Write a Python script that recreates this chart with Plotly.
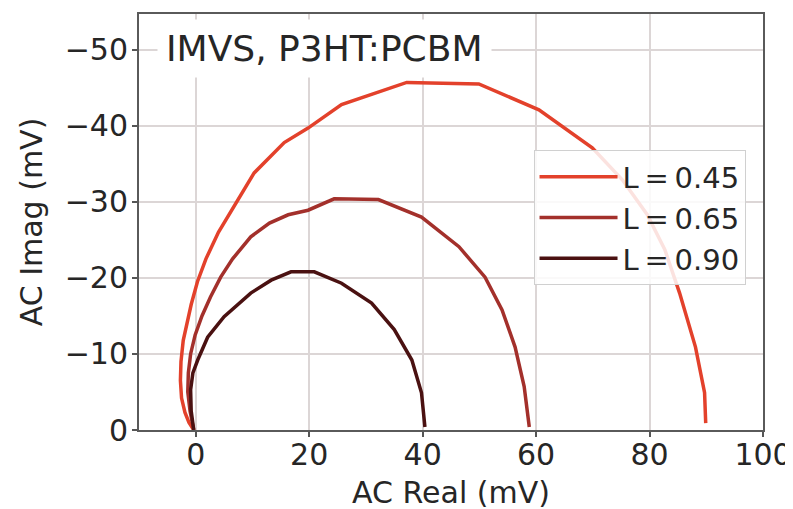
import plotly.graph_objects as go

# Data (AC Real, AC Imag in mV)
real_045 = [-0.35, -1.2, -1.9, -2.5, -2.7, -2.6, -2.2, -1.6, -0.8, 0.3, 1.8, 4.0, 7.4, 10.3, 15.6, 19.8,
            25.7, 34.5, 37.2, 49.9, 60.5, 69.9, 75.2, 79.6, 82.7, 85.3, 88.1, 89.7, 89.9]
imag_045 = [0.0, -1.0, -2.3, -4.2, -6.5, -9.0, -11.8, -14.0, -16.5, -19.5, -22.5, -26.0, -30.3, -33.8, -37.8, -39.7,
            -42.8, -45.1, -45.7, -45.5, -42.1, -37.1, -32.9, -28.3, -23.7, -18.0, -10.9, -4.9, -0.9]

real_065 = [-0.35, -1.0, -1.4, -1.3, -0.9, -0.1, 1.1, 2.6, 4.4, 6.5, 9.7, 13.0, 16.3, 19.8, 24.4, 32.2,
            39.8, 46.4, 51.0, 54.0, 56.3, 57.9, 58.8]
imag_065 = [0.0, -2.5, -5.0, -7.5, -10.0, -12.5, -15.0, -17.5, -20.1, -22.5, -25.4, -27.2, -28.3, -28.9, -30.4, -30.3,
            -28.0, -24.1, -20.1, -15.8, -10.9, -5.7, -0.4]

real_090 = [-0.35, -0.8, -0.9, -0.5, 0.35, 2.1, 5.0, 9.7, 13.3, 16.8, 20.9, 25.7, 31.0, 35.0, 38.1, 39.8, 40.4]
imag_090 = [0.0, -2.5, -5.3, -7.5, -9.2, -12.2, -14.9, -18.0, -19.7, -20.8, -20.8, -19.3, -16.7, -13.2, -9.2, -4.9, -0.4]

series_names = ["L\u2009=\u20090.45", "L\u2009=\u20090.65", "L\u2009=\u20090.90"]
series_colors = ["#e3412b", "#a3302b", "#4a1111"]

x_ticks = [0, 20, 40, 60, 80, 100]
y_ticks = [0, -10, -20, -30, -40, -50]
y_tick_text = ["0", "\u221210", "\u221220", "\u221230", "\u221240", "\u221250"]

FONT = "DejaVu Sans"
INK = "#262626"

fig = go.Figure()
for xs, ys, name, col in zip([real_045, real_065, real_090], [imag_045, imag_065, imag_090],
                             series_names, series_colors):
    fig.add_trace(go.Scatter(x=xs, y=ys, mode="lines", name=name,
                             line=dict(color=col, width=3.5)))

# The page body adds an 8px offset; plot area placed to match the reference
fig.update_layout(
    width=785, height=508,
    margin=dict(l=131, r=30, t=6, b=86),
    paper_bgcolor="white", plot_bgcolor="white",
    font=dict(family=FONT, color=INK, size=28),
    showlegend=True,
    legend=dict(x=0.972, y=0.672, xanchor="right", yanchor="top",
                bgcolor="rgba(255,255,255,0.85)", bordercolor="#d0d0d0", borderwidth=1,
                font=dict(family=FONT, size=29, color=INK),
                tracegroupgap=0, itemwidth=78),
    hovermode=False,
)

fig.update_xaxes(
    range=[-10, 100], tickvals=x_ticks, ticks="outside", ticklen=5, tickwidth=1.5, tickcolor="#555",
    showline=True, linecolor="#5a5a5a", linewidth=2, mirror=True,
    showgrid=True, gridcolor="#dcd6d6", gridwidth=1.5, zeroline=False, automargin=False,
    tickfont=dict(family=FONT, size=30, color=INK), ticklabelstandoff=-8,
    title=dict(text="AC Real (mV)", font=dict(family=FONT, size=30, color=INK), standoff=11),
)
fig.update_yaxes(
    range=[0, -54.7], tickvals=y_ticks, ticktext=y_tick_text, ticks="outside", ticklen=5, tickwidth=1.5,
    tickcolor="#555",
    showline=True, linecolor="#5a5a5a", linewidth=2, mirror=True,
    showgrid=True, gridcolor="#dcd6d6", gridwidth=1.5, zeroline=False, automargin=False,
    tickfont=dict(family=FONT, size=30, color=INK), ticklabelstandoff=-2,
    title=dict(text="AC Imag (mV)", font=dict(family=FONT, size=30, color=INK), standoff=13),
)

fig.add_annotation(
    text="IMVS, P3HT:PCBM", xref="paper", yref="paper", x=0.029, y=0.916,
    xanchor="left", yanchor="middle", showarrow=False,
    font=dict(family=FONT, size=36, color=INK), bgcolor="white", borderpad=8,
)

fig.write_html("out.html")
